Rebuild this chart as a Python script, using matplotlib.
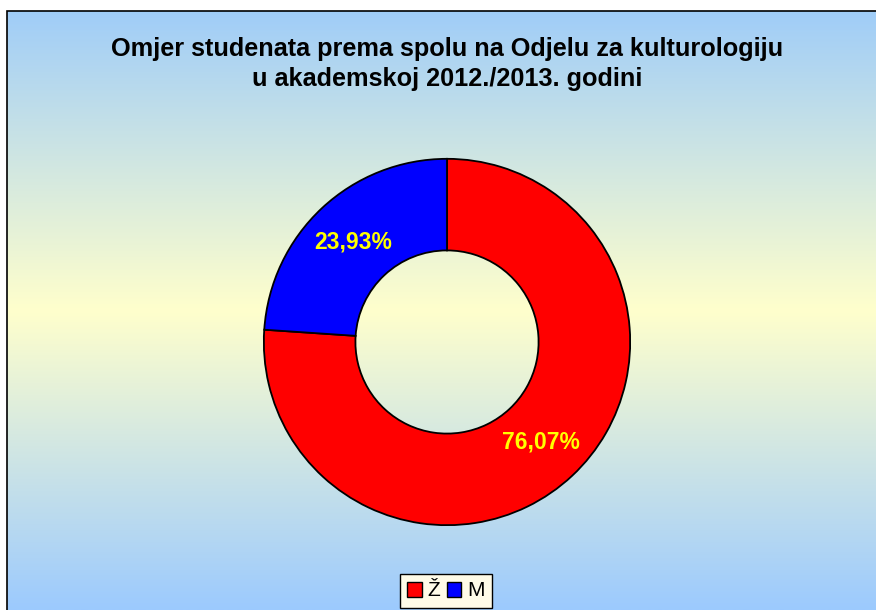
import numpy as np
import matplotlib.pyplot as plt
from matplotlib.colors import LinearSegmentedColormap
from matplotlib.patches import Rectangle, Patch

# --- Data ---
categories = ['Ž', 'M']
shares = [76.07, 23.93]
colors = ['#FF0000', '#0000FF']
title = 'Omjer studenata prema spolu na Odjelu za kulturologiju\nu akademskoj 2012./2013. godini'

plt.rcParams['font.family'] = ['Liberation Sans', 'DejaVu Sans']

W, H = 876, 610
fig = plt.figure(figsize=(W / 100, H / 100), dpi=100)
fig.patch.set_facecolor('white')

# background gradient inside the chart frame
x0, y0 = 7, 11  # frame top-left in pixels
bg = fig.add_axes([x0 / W, 0, 1 - x0 / W, 1 - y0 / H])
cmap = LinearSegmentedColormap.from_list('bg', ['#A0CDF8', '#FFFFCC', '#9CCAFE'])
grad = np.linspace(0, 1, 256).reshape(-1, 1)
bg.imshow(grad, aspect='auto', cmap=cmap, extent=[0, 1, 0, 1])
bg.set_axis_off()
fig.patches.append(Rectangle((x0 / W, -0.1), 1.2, 1 - y0 / H + 0.1,
                             transform=fig.transFigure, fill=False,
                             edgecolor='black', linewidth=1.2, zorder=5))

fig.text(447 / W, 1 - 64 / H, title, ha='center', va='center',
         fontsize=18.2, fontweight='bold', linespacing=1.35)

# donut
cx, cy, r = 447, 342, 185
ax = fig.add_axes([(cx - r) / W, (H - cy - r) / H, 2 * r / W, 2 * r / H])
wedges, _, autotexts = ax.pie(
    shares, colors=colors, startangle=90, counterclock=False, radius=1,
    autopct=lambda p: f'{p:.2f}%'.replace('.', ','), pctdistance=0.75,
    wedgeprops=dict(width=0.5, edgecolor='black', linewidth=1.3))
for t in autotexts:
    t.set_color('#FFFF00')
    t.set_fontsize(16.5)
    t.set_fontweight('bold')
ax.set_xlim(-1.01, 1.01)
ax.set_ylim(-1.01, 1.01)
ax.set_aspect('equal')
ax.set_axis_off()

handles = [Patch(facecolor=c, edgecolor='black', linewidth=1) for c in colors]
leg = fig.legend(handles, categories, loc='center', bbox_to_anchor=(446 / W, 1 - 591 / H),
                 ncol=2, frameon=True, fancybox=False, fontsize=15,
                 handlelength=0.7, handleheight=0.7, handletextpad=0.3,
                 columnspacing=0.3, borderpad=0.35, borderaxespad=0)
leg.get_frame().set_edgecolor('black')
leg.get_frame().set_facecolor('#FFFBE8')
leg.get_frame().set_alpha(1)

fig.savefig('out.png', dpi=100)
